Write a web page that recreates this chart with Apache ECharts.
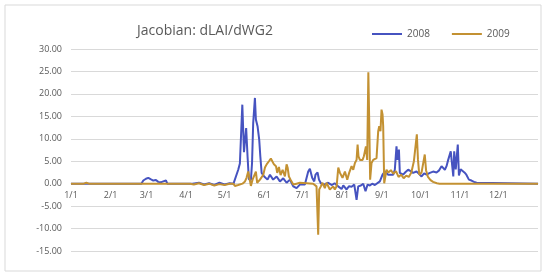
<!DOCTYPE html>
<html>
<head>
    <meta charset="utf-8">
    <title>Jacobian: dLAI/dWG2</title>
    <script src="https://cdn.jsdelivr.net/npm/echarts@6/dist/echarts.min.js"></script>
    <style>
        html, body { margin: 0; padding: 0; background: #fff; }
    </style>
</head>
<body>
<div id="chart" style="width:550px;height:278px;"></div>

<script type="text/javascript">
    // month starts (day of year) and their labels
    var monthStarts = [0, 31, 59, 90, 120, 151, 181, 212, 243, 273, 304, 334];
    var monthLabels = ['1/1', '2/1', '3/1', '4/1', '5/1', '6/1', '7/1', '8/1', '9/1', '10/1', '11/1', '12/1'];

    // 2008 series: day of year / value
    var days2008 = [0, 55, 56.5, 58.6, 60.4, 62.2, 64.3, 66.4, 68.2, 70.1, 72.1, 74.2, 75.3,
        95, 100, 104, 108, 112, 116, 120, 124, 127,
        128, 130.7, 132, 133.9, 135.2, 136.9, 138, 139, 140.6, 141.5, 142.4, 143.75, 144.5, 145.8, 147.1, 148, 149,
        151, 153.6, 155.5, 158, 160.7, 163.3, 165.9, 168.5, 171.1, 173.7, 176.3, 178.9, 182.8,
        184.1, 185.4, 186.7, 188.5, 190.1, 191.1, 192.7, 193.8, 195.3, 198, 201, 204, 206,
        208.8, 211.5, 212.8, 215.4, 217.2, 219.3, 221.4, 223.2, 224.5, 226.6, 228.4, 230.2, 231.8, 233.6, 235.4, 237.5,
        239, 241.4, 243.5, 245.3, 246.6, 247.9, 249.2, 251.8, 253.1, 254.4, 255.2, 256.3, 257, 259.6, 261.5, 263.5,
        265.5, 267.4, 270, 272, 274, 276, 277.9, 280.5, 283, 285.7, 287.5, 289.6, 292.2, 293.5, 294.8, 295.6,
        296.8, 298, 298.8, 299.5, 300.7, 302.3, 303.2, 304.5, 306, 307.5, 309, 311, 313, 315, 317, 318, 365];
    var vals2008 = [0, 0, 0.7, 1.1, 1.3, 1.0, 0.7, 0.8, 0.4, 0.3, 0.5, 0.7, 0,
        0, 0.2, -0.2, 0.1, -0.3, 0.2, -0.2, 0.1, 0,
        0.3, 3.1, 4.5, 17.6, 7.0, 12.4, 6, 1.0, 0.8, 4.6, 13.5, 19.1, 14.3, 12.8, 9.8, 6, 2.4,
        1.6, 0.9, 2.0, 0.9, 1.6, 0.5, 1.2, 0.2, 0.9, -0.6, -1.0, -0.2, -0.2,
        0.2, 2.7, 3.3, 1.3, 0.5, 2.0, 2.5, 0.9, 0.1, -0.2, 0.2, -0.3, 0.1,
        -0.6, -1.2, -0.4, -1.3, -0.6, -0.7, -0.2, -3.6, -0.6, -0.4, 0, -1.7, -0.2, -0.4, 0, -0.3,
        0.1, 0.5, 2.0, 2.7, 3.1, 2.0, 2.4, 2.0, 3.1, 8.3, 5.3, 7.6, 2.4, 2.0, 2.6, 3.1,
        2.8, 2.4, 2.7, 2.2, 1.6, 2.3, 2.0, 2.4, 2.7, 2.5, 2.9, 3.9, 3.1, 3.9, 5.3, 5.0,
        7.2, 7.6, 1.6, 7.2, 3.2, 8.7, 1.8, 3.2, 2.8, 2.5, 2.0, 0.9, 0.7, 0.4, 0.2, 0, 0];

    // 2009 series: day of year / value
    var days2009 = [0, 10, 12, 14, 93, 96, 100, 104, 108, 112, 116, 120, 124, 126.8,
        128.1, 130.7, 132, 134, 136, 137.2, 138.5, 139.8, 140.6, 141.9, 143.2, 144.5, 145.5, 147.7,
        150.3, 151.6, 152.9, 154.7, 156.2, 157.5, 158.6, 160.2, 161.2, 162.5, 163.8, 165.4, 167.2,
        168.5, 169.3, 170.3, 171.6, 173.7, 176.3, 178.9, 189.3, 191.9, 193.2, 194, 195.3, 196.6,
        198.4, 199.7, 202.3, 204.9, 206.2, 207.6, 208.9, 210.2, 212.2, 214.1, 215.9, 217.4, 219.3,
        220.6, 221.9, 223.2, 224, 224.7, 225.8, 226.6, 227.9, 228.9, 230.5, 231.5, 232.4, 233.2,
        233.8, 234.9, 236.2, 237.5, 238.8, 240.1, 240.9, 241.9, 242.7, 243.5, 244, 244.8, 246.6,
        248, 250, 252, 254, 256, 258, 260, 262, 264, 266, 268, 270.3, 271.2, 272.2, 274, 276.5,
        277.5, 279, 281, 283, 286, 288, 365];
    var vals2009 = [0, 0, 0.2, 0, 0, -0.2, 0.1, -0.3, 0, -0.4, -0.1, -0.3, 0, 0,
        -0.5, -0.3, -0.5, 0, 0.5, 1.3, 2.7, 3.1, -0.5, 0.9, 1.3, 2.7, 0.2, 0.9,
        2.0, 3.6, 4.3, 5.0, 5.6, 5.3, 4.3, 3.9, 2.4, 3.7, 1.9, 3.1, 1.6,
        4.3, 3.6, 1.6, 0.9, -0.2, 0, 0.2, 0, -0.6, -11.4, -1.3, -0.6, 0.2,
        -1.0, 0.2, -1.3, -0.6, -1.3, -0.6, 3.6, 2.4, 1.3, 2.7, 0.9, 2.4, 3.9,
        3.1, 4.6, 5.3, 8.7, 6.1, 5.3, 5.7, 5.3, 6.1, 8.3, 5.3, 24.8, 12,
        0.9, 4.6, 5.3, 5.0, 5.7, 11.7, 12.8, 11.7, 16.5, 15.4, 12.8, 0.1, 3.1,
        2.5, 3.0, 2.2, 2.8, 1.5, 2.0, 1.2, 1.8, 1.5, 2.5, 5.0, 11.0, 5.3, 2.0, 2.5, 6.5,
        3.0, 1.5, 0.8, 0.4, 0.1, 0, 0];

    // y axis
    var yMin = -15, yMax = 30, yStep = 5;

    function pairs(days, vals) {
        return days.map(function (d, i) { return [d, vals[i]]; });
    }

    var font = 'Open Sans';
    var gridTop = 49, gridBottom = 27, gridLeft = 71, gridRight = 12;
    var plotH = 278 - gridTop - gridBottom;
    // distance of the zero line from the bottom of the chart (labels sit under it)
    var zeroBottom = gridBottom + plotH * (0 - yMin) / (yMax - yMin);

    var myChart = echarts.init(document.getElementById('chart'));
    var option = {
        backgroundColor: '#ffffff',
        animation: false,
        title: {
            text: 'Jacobian: dLAI/dWG2',
            left: 137,
            top: 24,
            padding: 0,
            textStyle: { fontFamily: font, fontSize: 14, fontWeight: 'normal', color: '#595959' }
        },
        legend: {
            left: 372,
            top: 29,
            padding: 0,
            itemGap: 22,
            itemWidth: 30,
            itemHeight: 2,
            icon: 'rect',
            textStyle: { fontFamily: font, fontSize: 10, color: '#595959' },
            data: ['2008', '2009']
        },
        graphic: [{
            type: 'rect',
            shape: { x: 5, y: 5, width: 536, height: 266 },
            style: { fill: 'none', stroke: '#d9d9d9', lineWidth: 1 },
            silent: true
        }],
        grid: [
            { left: gridLeft, right: gridRight, top: gridTop, bottom: gridBottom },
            // same width, ends at the zero line: carries the month labels
            { left: gridLeft, right: gridRight, top: gridTop, bottom: zeroBottom }
        ],
        xAxis: [{
            type: 'value',
            gridIndex: 0,
            min: 0,
            max: 365,
            axisLine: { show: false },
            axisTick: { show: false },
            splitLine: { show: false },
            axisLabel: { show: false }
        }, {
            type: 'value',
            gridIndex: 1,
            min: 0,
            max: 365,
            axisLine: { show: true, lineStyle: { color: '#d9d9d9' } },
            axisTick: { show: false },
            splitLine: { show: false },
            axisLabel: {
                customValues: monthStarts,
                margin: 7,
                fontFamily: font,
                fontSize: 9,
                color: '#595959',
                formatter: function (v) {
                    var i = monthStarts.indexOf(v);
                    return i >= 0 ? monthLabels[i] : '';
                }
            }
        }],
        yAxis: [{
            type: 'value',
            gridIndex: 0,
            min: yMin,
            max: yMax,
            interval: yStep,
            axisLine: { show: false },
            axisTick: { show: false },
            splitLine: { lineStyle: { color: '#d9d9d9', width: 1 } },
            axisLabel: {
                margin: 9,
                fontFamily: font,
                fontSize: 9,
                color: '#595959',
                formatter: function (v) { return v.toFixed(2); }
            }
        }, {
            type: 'value',
            gridIndex: 1,
            min: 0,
            max: yMax,
            show: false
        }],
        series: [{
            name: '2008',
            type: 'line',
            data: pairs(days2008, vals2008),
            showSymbol: false,
            symbol: 'none',
            color: '#4653C0',
            lineStyle: { width: 2, color: '#4653C0' }
        }, {
            name: '2009',
            type: 'line',
            data: pairs(days2009, vals2009),
            showSymbol: false,
            symbol: 'none',
            color: '#C39132',
            lineStyle: { width: 2, color: '#C39132' }
        }]
    };
    myChart.setOption(option);
</script>
</body>
</html>
